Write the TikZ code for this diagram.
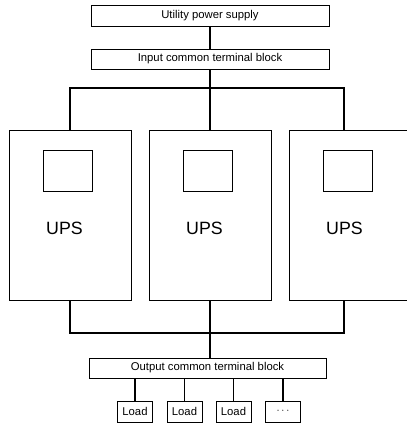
\documentclass[tikz,border=0pt]{standalone}
\usepackage{fontspec}
\setmainfont{Liberation Sans}
\begin{document}
\begin{tikzpicture}[x=1pt,y=-1pt,
  box/.style={draw=black,line width=0.9pt,inner sep=0pt,font=\fontsize{11.3}{13}\selectfont},
  upsbox/.style={draw=black,line width=1pt,inner sep=0pt,minimum width=122pt,minimum height=170pt},
  screen/.style={draw=black,line width=1pt,inner sep=0pt,minimum width=49pt,minimum height=41pt},
  upslabel/.style={inner sep=0pt,font=\fontsize{17.8}{20}\selectfont},
  loadbox/.style={box,minimum width=35pt,minimum height=21pt},
  wire/.style={draw=black,line width=1.3pt}]
\clip (0,0) rectangle (407,424);
% top boxes
\node[box,minimum width=238pt,minimum height=21pt] (util) at (210,15.5) {Utility power supply};
\node[box,minimum width=238pt,minimum height=20pt] (inb) at (210,59) {Input common terminal block};
% UPS units
\node[upsbox] (ups1) at (70,215) {};
\node[upsbox] (ups2) at (210,215) {};
\node[upsbox] (ups3) at (350,215) {};
\node[screen] (sc1) at (67.5,170.5) {};
\node[screen] (sc2) at (207.5,170.5) {};
\node[screen] (sc3) at (347.5,170.5) {};
\node[upslabel] (t1) at (64.5,228.5) {UPS};
\node[upslabel] (t2) at (204.5,228.5) {UPS};
\node[upslabel] (t3) at (344.5,228.5) {UPS};
% output block and loads
\node[box,minimum width=237pt,minimum height=20pt] (outb) at (207.5,368) {Output common terminal block};
\node[loadbox] (l1) at (135,411.5) {Load};
\node[loadbox] (l2) at (184.5,411.5) {Load};
\node[loadbox] (l3) at (233.5,411.5) {Load};
\node[loadbox] (l4) at (283,411.5) {$\cdots$};
% helper coordinates
\coordinate (bt) at (210,88);
\coordinate (u3t) at (344,130);
\coordinate (bb) at (210,333);
\coordinate (u3b) at (344,300);
% connectors
\draw[wire] (util) -- (inb);
\draw[wire] (inb) -- (ups2);
\draw[wire] (ups1.north) |- (bt) -| (u3t);
\draw[wire] (ups1.south) |- (bb) -| (u3b);
\draw[wire] (ups2.south) -- (ups2.south |- outb.north);
\foreach \n in {l1,l2,l3,l4} \draw[wire] (\n.north) -- (\n.north |- outb.south);
\end{tikzpicture}
\end{document}
